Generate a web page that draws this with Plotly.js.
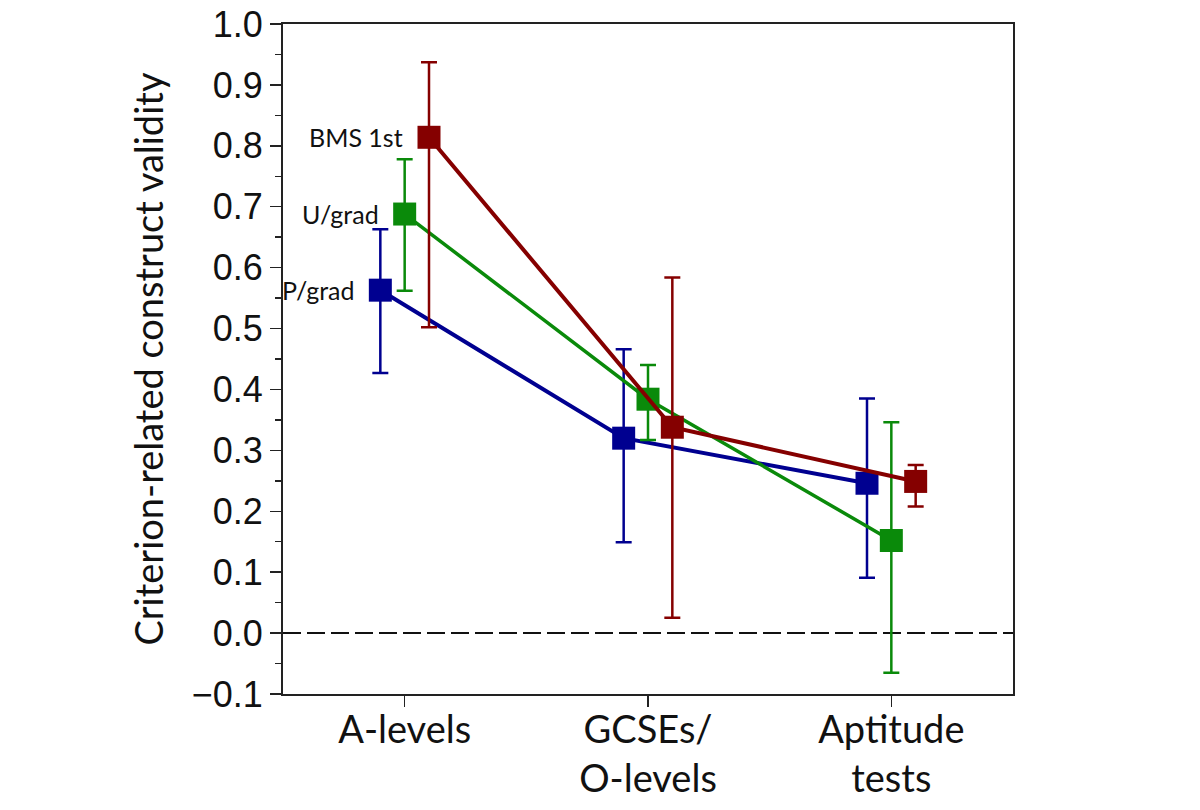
<!DOCTYPE html>
<html>
<head>
<meta charset="utf-8">
<script src="https://cdn.plot.ly/plotly-3.0.1.min.js"></script>
<style>html,body{margin:0;padding:0;background:#fff;}#chart{width:1200px;height:810px;}</style>
</head>
<body>
<div id="chart"></div>
<script>
const categories = ["A-levels", "GCSEs/<br>O-levels", "Aptitude<br>tests"];
const categoryPos = [1, 2, 3];

const seriesNames = ["P/grad", "U/grad", "BMS 1st"];
const seriesOffsets = [-0.1, 0, 0.1];
const seriesColors = ["#000090", "#0a8a0a", "#850000"];

const pgradValues = [0.563, 0.320, 0.246];
const pgradUpper  = [0.663, 0.466, 0.385];
const pgradLower  = [0.427, 0.149, 0.091];

const ugradValues = [0.688, 0.384, 0.152];
const ugradUpper  = [0.778, 0.440, 0.346];
const ugradLower  = [0.562, 0.317, -0.065];

const bmsValues = [0.814, 0.338, 0.249];
const bmsUpper  = [0.937, 0.584, 0.276];
const bmsLower  = [0.502, 0.025, 0.208];

const values = [pgradValues, ugradValues, bmsValues];
const uppers = [pgradUpper, ugradUpper, bmsUpper];
const lowers = [pgradLower, ugradLower, bmsLower];
const lineWidths = [4, 3.5, 4];

const traces = seriesNames.map((name, i) => ({
  type: "scatter",
  mode: "lines+markers",
  name: name,
  x: categoryPos.map(p => p + seriesOffsets[i]),
  y: values[i],
  line: {color: seriesColors[i], width: lineWidths[i]},
  marker: {symbol: "square", size: 23, color: seriesColors[i]},
  error_y: {
    type: "data",
    symmetric: false,
    array: uppers[i].map((u, k) => u - values[i][k]),
    arrayminus: values[i].map((v, k) => v - lowers[i][k]),
    color: seriesColors[i],
    thickness: 2.5,
    width: 8
  },
  cliponaxis: false,
  showlegend: false
}));

const annotations = seriesNames.map((name, i) => ({
  x: categoryPos[0] + seriesOffsets[i],
  y: values[i][0],
  xref: "x", yref: "y",
  text: name,
  showarrow: false,
  xanchor: "right",
  yanchor: "middle",
  xshift: -24,
  font: {family: "Lato, 'Open Sans', sans-serif", size: 25, color: "#111"}
}));

const layout = {
  width: 1200, height: 810,
  margin: {l: 283, r: 187, t: 24, b: 116},
  paper_bgcolor: "#fff", plot_bgcolor: "#fff",
  showlegend: false,
  xaxis: {
    range: [0.5, 3.5],
    tickvals: categoryPos,
    ticktext: categories,
    ticks: "outside", ticklen: 11, tickwidth: 1.5, tickcolor: "#222",
    ticklabelstandoff: -10,
    showgrid: false, zeroline: false,
    showline: true, linecolor: "#222", linewidth: 2, mirror: true,
    tickfont: {family: "Lato, 'Open Sans', sans-serif", size: 38, color: "#111"},
    fixedrange: true
  },
  yaxis: {
    range: [-0.1, 1.0],
    tickmode: "linear", tick0: 0, dtick: 0.1, tickformat: ".1f",
    ticks: "outside", ticklen: 11, tickwidth: 1.5, tickcolor: "#222",
    minor: {dtick: 0.05, tick0: 0, ticks: "outside", ticklen: 6, tickcolor: "#222", tickwidth: 1.5},
    showgrid: false, zeroline: false,
    showline: true, linecolor: "#222", linewidth: 2, mirror: true,
    tickfont: {family: "'Liberation Sans', Arial, sans-serif", size: 36, color: "#111"},
    title: {text: "Criterion-related construct validity", standoff: 16,
            font: {family: "Lato, 'Open Sans', sans-serif", size: 38, color: "#111"}},
    fixedrange: true
  },
  shapes: [{
    type: "line", xref: "paper", yref: "y",
    x0: 0, x1: 1, y0: 0, y1: 0,
    line: {color: "#111", width: 2, dash: "18px,6px"},
    layer: "below"
  }],
  annotations: annotations
};

Plotly.newPlot("chart", traces, layout, {staticPlot: true, displayModeBar: false});
</script>
</body>
</html>
